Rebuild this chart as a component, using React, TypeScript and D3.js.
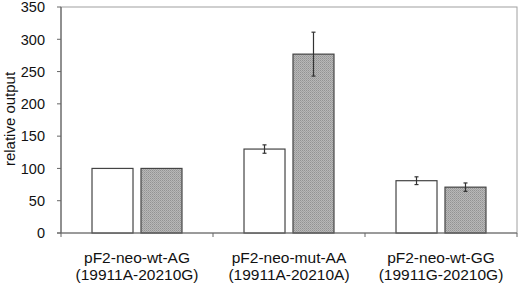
import React from "react";
import * as d3 from "d3";

const categories = ["pF2-neo-wt-AG", "pF2-neo-mut-AA", "pF2-neo-wt-GG"];
const subLabels = ["(19911A-20210G)", "(19911A-20210A)", "(19911G-20210G)"];
const series = ["white", "gray"];
const whiteValues = [100, 130, 81];
const whiteErrors = [0, 6.5, 6];
const grayValues = [100, 277, 71];
const grayErrors = [0, 34, 6.5];
const yTicks = [0, 50, 100, 150, 200, 250, 300, 350];

const W = 520, H = 284;
const m = { left: 61, right: 3, top: 7, bottom: 51 };

export default function App() {
  const x = d3.scaleBand().domain(categories).range([m.left, W - m.right]);
  const xs = d3.scaleBand().domain(series).range([0, x.bandwidth()]).paddingInner(0.163).paddingOuter(0.633);
  const y = d3.scaleLinear().domain([0, 350]).range([H - m.bottom, m.top]);
  const font = "'Liberation Sans', Arial, sans-serif";
  const data = series.map((s, si) => ({
    s,
    vals: si === 0 ? whiteValues : grayValues,
    errs: si === 0 ? whiteErrors : grayErrors,
  }));
  return (
    <svg width={W} height={H} style={{ position: "absolute", left: 0, top: 0, background: "#fff" }}>
      <defs>
        <pattern id="dots" width="2" height="2" patternUnits="userSpaceOnUse">
          <rect width="2" height="2" fill="#b8b8b8" />
          <rect width="1" height="1" fill="#939393" />
          <rect x="1" y="1" width="1" height="1" fill="#a2a2a2" />
        </pattern>
      </defs>
      {/* frame */}
      <rect x={m.left} y={m.top} width={W - m.right - m.left} height={H - m.bottom - m.top} fill="none" stroke="#a0a0a0" strokeWidth={1} />
      {/* bars */}
      {data.map((d) =>
        categories.map((c, i) => {
          const bx = (x(c) as number) + (xs(d.s) as number);
          const bw = xs.bandwidth();
          return (
            <g key={d.s + c}>
              <rect x={bx} y={y(d.vals[i])} width={bw} height={y(0) - y(d.vals[i])}
                fill={d.s === "white" ? "#fff" : "url(#dots)"} stroke="#444" strokeWidth={1.2} />
              {d.errs[i] > 0 && (
                <g stroke="#333" strokeWidth={1.2}>
                  <line x1={bx + bw / 2} x2={bx + bw / 2} y1={y(d.vals[i] + d.errs[i])} y2={y(d.vals[i] - d.errs[i])} />
                  <line x1={bx + bw / 2 - 2} x2={bx + bw / 2 + 2} y1={y(d.vals[i] + d.errs[i])} y2={y(d.vals[i] + d.errs[i])} />
                  <line x1={bx + bw / 2 - 2} x2={bx + bw / 2 + 2} y1={y(d.vals[i] - d.errs[i])} y2={y(d.vals[i] - d.errs[i])} />
                </g>
              )}
            </g>
          );
        })
      )}
      {/* y axis */}
      <line x1={m.left} x2={m.left} y1={y(0)} y2={y(350)} stroke="#666" strokeWidth={1.2} />
      {yTicks.map((t) => (
        <g key={t}>
          <line x1={m.left - 4} x2={m.left} y1={y(t)} y2={y(t)} stroke="#666" />
          <text x={45} y={y(t)} dy="0.36em" textAnchor="end" fontFamily={font} fontSize={14.5} fill="#111">{t}</text>
        </g>
      ))}
      {/* x axis */}
      <line x1={m.left - 4} x2={W - m.right} y1={y(0)} y2={y(0)} stroke="#666" strokeWidth={1.2} />
      {[...categories.map((c) => x(c) as number), W - m.right].map((v, i) => (
        <line key={i} x1={v} x2={v} y1={y(0)} y2={y(0) + 4} stroke="#666" />
      ))}
      {categories.map((c, i) => (
        <g key={c}>
          <text x={(x(c) as number) + x.bandwidth() / 2} y={263} textAnchor="middle" fontFamily={font} fontSize={15.5} fill="#111">{c}</text>
          <text x={(x(c) as number) + x.bandwidth() / 2} y={280} textAnchor="middle" fontFamily={font} fontSize={15.5} fill="#111">{subLabels[i]}</text>
        </g>
      ))}
      <text transform={`translate(15,${(y(0) + y(350)) / 2 - 1}) rotate(-90)`} textAnchor="middle" fontFamily={font} fontSize={15} fill="#111">relative output</text>
    </svg>
  );
}
